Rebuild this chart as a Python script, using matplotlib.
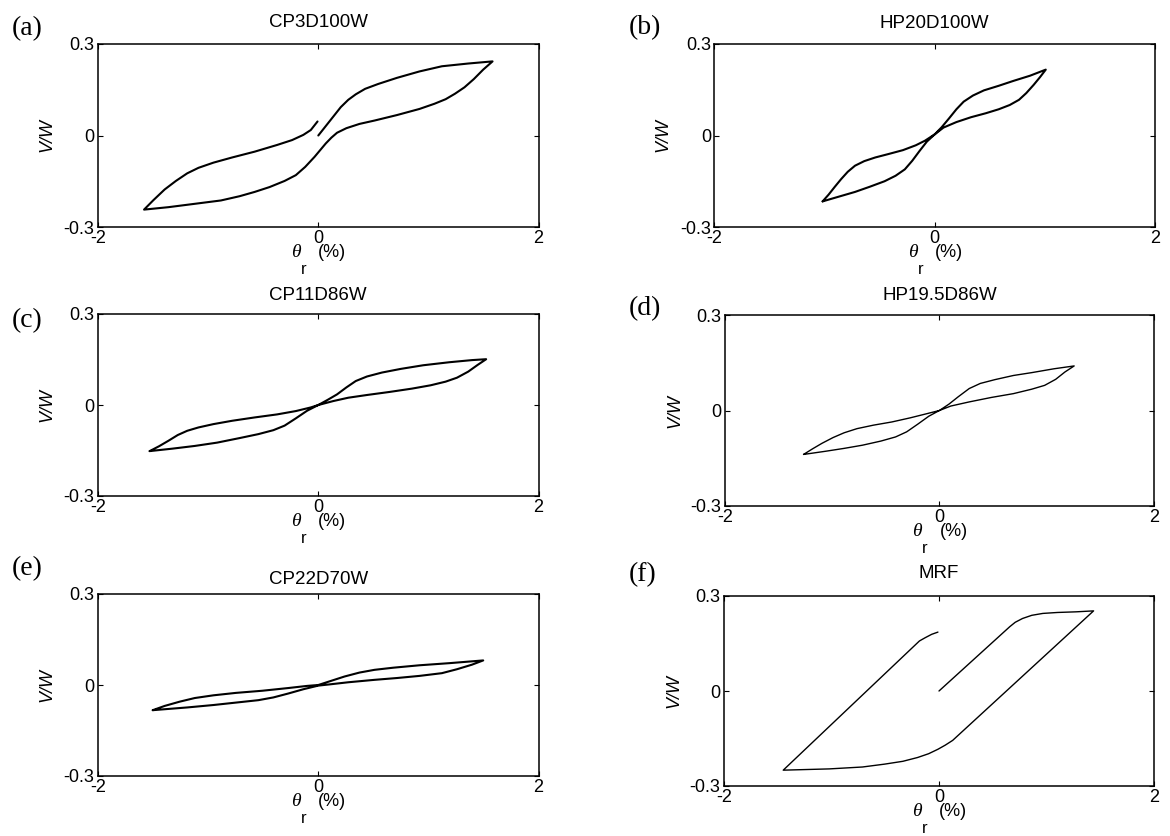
import matplotlib
matplotlib.use("Agg")
import matplotlib.pyplot as plt

plt.rcParams['font.family'] = ['Liberation Sans', 'DejaVu Sans']

# ---------------- data (theta_r in %, V/W) ----------------
titles = ["CP3D100W", "HP20D100W", "CP11D86W", "HP19.5D86W", "CP22D70W", "MRF"]
panel_tags = ["(a)", "(b)", "(c)", "(d)", "(e)", "(f)"]
x_ticks = [-2, 0, 2]
y_ticks = [-0.3, 0, 0.3]
x_tick_labels = ["-2", "0", "2"]
y_tick_labels = ["-0.3", "0", "0.3"]

# (a) CP3D100W: initial loading, unloading, reloading (open end)
a_x = [0, 0.068, 0.136, 0.204, 0.272, 0.340, 0.425, 0.544, 0.714, 0.918, 1.122, 1.361, 1.582,
       1.497, 1.412, 1.327, 1.241, 1.156, 1.054, 0.918, 0.714, 0.510, 0.374, 0.255, 0.170,
       0.119, 0.068, 0.017, -0.034, -0.119, -0.204, -0.306, -0.442, -0.578, -0.714, -0.884,
       -1.122, -1.361, -1.582,
       -1.497, -1.395, -1.293, -1.190, -1.088, -0.952, -0.782, -0.578, -0.374, -0.238,
       -0.136, -0.068, -0.007]
a_y = [0, 0.031, 0.062, 0.093, 0.117, 0.135, 0.153, 0.169, 0.189, 0.210, 0.227, 0.236, 0.243,
       0.216, 0.185, 0.158, 0.137, 0.119, 0.104, 0.087, 0.067, 0.049, 0.038, 0.024, 0.009,
       -0.007, -0.026, -0.048, -0.070, -0.103, -0.130, -0.149, -0.169, -0.185, -0.199, -0.213,
       -0.224, -0.235, -0.243,
       -0.212, -0.177, -0.149, -0.124, -0.106, -0.089, -0.072, -0.053, -0.031, -0.015,
       0.002, 0.018, 0.046]

# (b) HP20D100W
b_x = [-1.018, -0.964, -0.907, -0.850, -0.790, -0.724, -0.640, -0.540, -0.423, -0.289,
       -0.172, -0.089, 0, 0.062, 0.129, 0.196, 0.262, 0.346, 0.446, 0.580, 0.713, 0.864,
       1.007, 0.954, 0.897, 0.830, 0.764, 0.680, 0.580, 0.463, 0.329, 0.196, 0.079, 0,
       -0.072, -0.139, -0.205, -0.272, -0.356, -0.456, -0.590, -0.724, -0.857, -1.018]
b_y = [-0.216, -0.194, -0.168, -0.143, -0.119, -0.099, -0.084, -0.072, -0.061, -0.048,
       -0.032, -0.017, 0.004, 0.027, 0.056, 0.086, 0.111, 0.131, 0.148, 0.163, 0.179, 0.196,
       0.216, 0.191, 0.166, 0.139, 0.117, 0.100, 0.086, 0.073, 0.060, 0.044, 0.026, 0.004,
       -0.020, -0.051, -0.083, -0.111, -0.132, -0.150, -0.168, -0.185, -0.199, -0.216]

# (c) CP11D86W
c_x = [-1.531, -1.446, -1.361, -1.276, -1.190, -1.088, -0.952, -0.782, -0.578, -0.374,
       -0.204, -0.068, 0, 0.085, 0.170, 0.255, 0.340, 0.442, 0.578, 0.748, 0.952, 1.190,
       1.395, 1.524, 1.446, 1.361, 1.259, 1.156, 1.020, 0.850, 0.646, 0.442, 0.272, 0.136,
       0, -0.102, -0.204, -0.306, -0.408, -0.544, -0.714, -0.918, -1.122, -1.327, -1.531]
c_y = [-0.152, -0.136, -0.118, -0.099, -0.085, -0.074, -0.063, -0.052, -0.041, -0.031,
       -0.020, -0.008, 0, 0.017, 0.035, 0.058, 0.079, 0.094, 0.107, 0.119, 0.131, 0.141,
       0.148, 0.151, 0.132, 0.110, 0.090, 0.077, 0.065, 0.054, 0.043, 0.033, 0.024, 0.013,
       0, -0.019, -0.044, -0.068, -0.083, -0.096, -0.109, -0.124, -0.135, -0.144, -0.152]

# (d) HP19.5D86W
d_x = [-1.266, -1.180, -1.094, -0.991, -0.888, -0.768, -0.614, -0.443, -0.271, -0.117,
       0, 0.089, 0.175, 0.278, 0.381, 0.518, 0.690, 0.861, 1.067, 1.256, 1.170, 1.084,
       0.981, 0.861, 0.690, 0.484, 0.278, 0.106, 0, -0.099, -0.202, -0.305, -0.408,
       -0.545, -0.717, -0.888, -1.060, -1.266]
d_y = [-0.138, -0.120, -0.103, -0.085, -0.070, -0.057, -0.046, -0.036, -0.023, -0.010,
       0, 0.020, 0.043, 0.069, 0.085, 0.097, 0.110, 0.119, 0.131, 0.140, 0.121, 0.098,
       0.079, 0.067, 0.053, 0.041, 0.027, 0.014, 0, -0.018, -0.043, -0.067, -0.083,
       -0.096, -0.109, -0.119, -0.128, -0.138]

# (e) CP22D70W
e_x = [-1.503, -1.395, -1.259, -1.122, -0.952, -0.748, -0.510, -0.272, -0.102, 0,
       0.102, 0.238, 0.374, 0.510, 0.680, 0.918, 1.190, 1.497, 1.395, 1.259, 1.122,
       0.918, 0.714, 0.510, 0.272, 0.102, 0, -0.136, -0.272, -0.408, -0.544, -0.748,
       -0.952, -1.190, -1.503]
e_y = [-0.083, -0.069, -0.055, -0.043, -0.034, -0.026, -0.019, -0.010, -0.003, 0,
       0.012, 0.028, 0.041, 0.050, 0.057, 0.065, 0.072, 0.081, 0.067, 0.052, 0.039,
       0.030, 0.023, 0.017, 0.009, 0.002, -0.002, -0.014, -0.028, -0.041, -0.050, -0.058,
       -0.066, -0.074, -0.083]

# (f) MRF
f_x = [0, 0.658, 0.709, 0.777, 0.863, 0.966, 1.103, 1.274, 1.438,
       0.127, 0.058, -0.010, -0.096, -0.199, -0.336, -0.507, -0.712, -1.021, -1.449,
       -0.182, -0.130, -0.068, -0.010]
f_y = [0, 0.203, 0.217, 0.229, 0.239, 0.245, 0.248, 0.250, 0.253,
       -0.156, -0.171, -0.184, -0.198, -0.210, -0.222, -0.231, -0.240, -0.246, -0.250,
       0.158, 0.168, 0.179, 0.186]

series = [(a_x, a_y), (b_x, b_y), (c_x, c_y), (d_x, d_y), (e_x, e_y), (f_x, f_y)]

# ---------------- layout ----------------
W, H = 1170, 836
boxes_px = [  # left, top, right, bottom in pixels
    (98, 44, 538.6, 227),
    (714.4, 44, 1155.2, 227),
    (98, 314, 538.6, 496),
    (724.8, 315, 1154, 506),
    (98, 594, 538.6, 776),
    (724, 596, 1154, 786),
]
title_pads = [12, 11.5, 10, 11, 7.5, 13]
line_widths = [1.5, 1.5, 1.5, 1.0, 1.5, 1.0]
tag_pos_px = [(12, 35), (629, 34), (12, 327), (629, 315), (12, 575), (629, 581)]

fig = plt.figure(figsize=(W / 100, H / 100), dpi=100)

for i, ((xs, ys), (l, t, r, b)) in enumerate(zip(series, boxes_px)):
    ax = fig.add_axes([l / W, 1 - b / H, (r - l) / W, (b - t) / H])
    ax.plot(xs, ys, color='black', lw=line_widths[i], solid_joinstyle='round',
            solid_capstyle='round')
    ax.set_xlim(-2, 2)
    ax.set_ylim(-0.3, 0.3)
    ax.set_xticks(x_ticks)
    ax.set_xticklabels(x_tick_labels)
    ax.set_yticks(y_ticks)
    ax.set_yticklabels(y_tick_labels)
    ax.tick_params(direction='in', length=3.5, width=0.8, top=True, right=True,
                   labelsize=13, colors='black')
    ax.tick_params(axis='x', pad=2.5)
    ax.tick_params(axis='y', pad=2.5)
    for sp in ax.spines.values():
        sp.set_linewidth(1.1)
    ax.set_title(titles[i], fontsize=13.5, pad=title_pads[i])
    ax.set_ylabel('V/W', fontsize=13, style='italic')
    ax.yaxis.set_label_coords(-0.097, 0.5)
    # x label: theta with subscript r, then (%)
    ax.annotate('θ', xy=(0.5, 0), xycoords='axes fraction', xytext=(-16, -21.5),
                textcoords='offset points', ha='center', va='baseline',
                fontsize=14, family=['Liberation Serif', 'DejaVu Serif'], style='italic')
    ax.annotate('r', xy=(0.5, 0), xycoords='axes fraction', xytext=(-10.5, -33.5),
                textcoords='offset points', ha='center', va='baseline', fontsize=12)
    ax.annotate('(%)', xy=(0.5, 0), xycoords='axes fraction', xytext=(0, -21.5),
                textcoords='offset points', ha='left', va='baseline', fontsize=13)

for tag, (px, py) in zip(panel_tags, tag_pos_px):
    fig.text(px / W, 1 - py / H, tag, ha='left', va='baseline', fontsize=20,
             family=['Liberation Serif', 'DejaVu Serif'])

fig.savefig('out.png', dpi=100)
